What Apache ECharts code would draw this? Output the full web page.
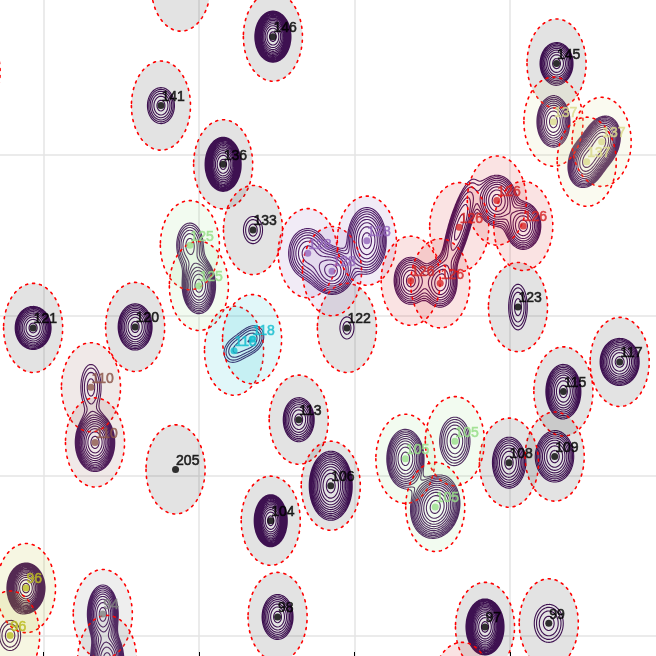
<!DOCTYPE html>
<html><head><meta charset="utf-8">
<script src="https://cdn.jsdelivr.net/npm/echarts@6/dist/echarts.min.js"></script>
<style>html,body{margin:0;padding:0;background:#fff;overflow:hidden}#c{width:656px;height:656px}</style>
</head><body><div id="c"></div>
<script>
// ---- peak data (1H ppm, 15N ppm) ----
const peakLabels = ['146','141','136','133','145','123','121','120','122','117','115','113','109','108','106','205','104','98','97','99','','',
  '125','125','128','128','128','126','126','126','126','126','126','137','137','137','118','118','110','110','105','105','105','96','96','94','94'];
const peakGroups = ['k','k','k','k','k','k','k','k','k','k','k','k','k','k','k','k','k','k','k','k','k','k',
  'g125','g125','g128','g128','g128','g126','g126','g126','g126','g126','g126','g137','g137','g137','g118','g118','g110','g110','g105','g105','g105','g96','g96','g94','g94'];
const peakH = [8.263,8.623,8.423,8.327,7.351,7.475,9.034,8.706,8.025,7.148,7.329,8.180,7.357,7.504,8.077,8.576,8.270,8.248,7.581,7.376,8.559,9.235,
  8.530,8.501,8.151,8.073,7.961,7.820,7.725,7.664,7.543,7.458,7.655,7.361,7.206,7.254,8.388,8.330,8.848,8.835,7.837,7.678,7.741,9.057,9.108,8.810,8.796];
const peakN = [111.31,113.46,115.29,117.34,112.15,119.74,120.39,120.36,120.39,121.45,122.37,123.25,124.40,124.59,125.31,124.80,126.40,129.40,129.71,129.60,109.75,112.41,
  117.81,119.08,118.06,118.62,117.67,118.92,119.00,117.25,116.42,117.21,131.58,113.96,114.59,115.21,121.10,120.74,122.24,123.96,124.47,123.92,125.97,128.50,129.98,129.31,130.74];
const peakHeights = [20.3,3.41,20.3,1.75,6.66,2.18,8.33,6.66,1.40,8.33,8.33,5.33,6.66,5.33,13.0,0,20.3,5.33,20.3,2.18,0,0,
  3.41,8.33,4.27,6.66,6.66,5.33,5.33,4.27,6.66,6.66,5.33,6.66,10.0,10.0,1.75,2.18,2.18,13.0,8.33,3.41,13.0,20.3,1.75,8.33,8.33];
const peakWidthH = [0.0236,0.0277,0.0236,0.029,0.0272,0.024,0.028,0.028,0.0276,0.0305,0.0273,0.0272,0.0314,0.029,0.0305,0.03,0.0216,0.0272,0.0249,0.0373,0.03,0.03,
  0.027,0.026,0.036,0.035,0.032,0.029,0.029,0.032,0.032,0.029,0.029,0.0272,0.028,0.028,0.03,0.03,0.026,0.028,0.029,0.031,0.035,0.0249,0.032,0.024,0.026];
const peakWidthN = [0.324,0.358,0.343,0.40,0.336,0.57,0.325,0.37,0.42,0.356,0.409,0.375,0.408,0.434,0.475,0.4,0.33,0.383,0.355,0.474,0.4,0.4,
  0.44,0.42,0.45,0.37,0.53,0.40,0.40,0.85,0.405,0.374,0.40,0.408,0.374,0.374,0.33,0.33,0.57,0.40,0.446,0.477,0.433,0.318,0.44,0.44,0.44];
const peakCorr = [0,0,0,0,0,0,0,0,0,0,0,0,0,0,0,0,0,0,0,0,0,0,
  0,0,0,0,0,0,0,0.75,0,0,0,0,0.2,0.2,0.2,0.2,0,0,0,0,0.1,0,0,0,0];
const groupColors = {k:'#000000', g125:'#98df8a', g128:'#9467bd', g126:'#d62728', g137:'#dbdb8d', g118:'#17becf', g110:'#8c564b', g105:'#98df8a', g96:'#bcbd22', g94:'#7f7f7f'};
const ellipseRadiusH = 0.095, ellipseRadiusN = 1.39;
const contourBase = 1, contourFactor = 1.25, contourCount = 20;
const xRange = [7.0312, 9.1405], yRange = [110.168, 130.617];
const xGridTicks = [7.5, 8.0, 8.5, 9.0], yGridTicks = [115, 120, 125, 130];

// ---- contour field ----
const X0 = 6.95, X1 = 9.3, Y0 = 108.5, Y1 = 132.5, NX = 520, NY = 540;
const dx = (X1 - X0) / NX, dy = (Y1 - Y0) / NY, W = NX + 1;
const field = new Float64Array((NX + 1) * (NY + 1));
for (let p = 0; p < peakLabels.length; p++) {
  const A = peakHeights[p]; if (!A) continue;
  const cx = peakH[p], cy = peakN[p], sx = peakWidthH[p], sy = peakWidthN[p], r = peakCorr[p], k1 = 1 / (1 - r * r);
  const i0 = Math.max(0, Math.floor((cx - 5 * sx - X0) / dx)), i1 = Math.min(NX, Math.ceil((cx + 5 * sx - X0) / dx));
  const j0 = Math.max(0, Math.floor((cy - 5 * sy - Y0) / dy)), j1 = Math.min(NY, Math.ceil((cy + 5 * sy - Y0) / dy));
  for (let j = j0; j <= j1; j++) {
    const v = (Y0 + j * dy - cy) / sy;
    for (let i = i0; i <= i1; i++) {
      const u = (X0 + i * dx - cx) / sx;
      field[j * W + i] += A * Math.exp(-0.5 * k1 * (u * u - 2 * r * u * v + v * v));
    }
  }
}
const segs = [];
for (let k = 0; k < contourCount; k++) {
  const L = contourBase * Math.pow(contourFactor, k);
  for (let j = 0; j < NY; j++) for (let i = 0; i < NX; i++) {
    const v0 = field[j * W + i], v1 = field[j * W + i + 1], v2 = field[(j + 1) * W + i + 1], v3 = field[(j + 1) * W + i];
    const c = (v0 > L ? 1 : 0) | (v1 > L ? 2 : 0) | (v2 > L ? 4 : 0) | (v3 > L ? 8 : 0);
    if (c === 0 || c === 15) continue;
    const x = X0 + i * dx, y = Y0 + j * dy;
    const e = (q) => {
      switch (q) {
        case 0: return [x + (L - v0) / (v1 - v0) * dx, y];
        case 1: return [x + dx, y + (L - v1) / (v2 - v1) * dy];
        case 2: return [x + (L - v3) / (v2 - v3) * dx, y + dy];
        default: return [x, y + (L - v0) / (v3 - v0) * dy];
      }
    };
    const s = (a, b) => { segs.push(e(a), e(b)); };
    const ctr = (v0 + v1 + v2 + v3) / 4;
    switch (c) {
      case 1: s(3, 0); break; case 2: s(0, 1); break; case 3: s(3, 1); break; case 4: s(1, 2); break;
      case 5: if (ctr > L) { s(0, 1); s(2, 3); } else { s(3, 0); s(1, 2); } break;
      case 6: s(0, 2); break; case 7: s(3, 2); break; case 8: s(2, 3); break; case 9: s(0, 2); break;
      case 10: if (ctr > L) { s(3, 0); s(1, 2); } else { s(0, 1); s(2, 3); } break;
      case 11: s(1, 2); break; case 12: s(1, 3); break; case 13: s(0, 1); break; case 14: s(3, 0); break;
    }
  }
}

const chart = echarts.init(document.getElementById('c'), null, {renderer: 'canvas'});
const ellipseData = peakLabels.map((l, i) => [peakH[i], peakN[i], i]);
const scatterData = peakLabels.map((l, i) => ({
  value: [peakH[i], peakN[i]], name: l,
  itemStyle: {color: groupColors[peakGroups[i]]},
  label: {color: groupColors[peakGroups[i]], textBorderColor: groupColors[peakGroups[i]], textBorderWidth: 0.6}
}));
function fade(hex, a) {
  const r = parseInt(hex.slice(1, 3), 16), g = parseInt(hex.slice(3, 5), 16), b = parseInt(hex.slice(5, 7), 16);
  return `rgba(${r},${g},${b},${a})`;
}
const gridLineStyle = {color: '#e4e4e4', width: 1.5, type: 'solid'};
chart.setOption({
  animation: false,
  backgroundColor: '#ffffff',
  grid: {left: 0, right: 0, top: 0, bottom: 0, containLabel: false},
  xAxis: {type: 'value', min: xRange[0], max: xRange[1], inverse: true,
    axisLine: {show: false}, axisLabel: {show: false},
    axisTick: {show: true, inside: true, length: 4, customValues: xGridTicks, lineStyle: {color: '#000', width: 1}},
    splitLine: {show: false}},
  yAxis: {type: 'value', min: yRange[0], max: yRange[1], inverse: true,
    axisLine: {show: false}, axisLabel: {show: false}, axisTick: {show: false},
    splitLine: {show: false}},
  series: [
    {type: 'line', z: 0, data: [], silent: true,
      markLine: {z: 0, silent: true, symbol: ['none', 'none'], label: {show: false}, lineStyle: gridLineStyle,
        emphasis: {disabled: true},
        data: xGridTicks.map(v => ({xAxis: v})).concat(yGridTicks.map(v => ({yAxis: v})))}},
    {type: 'custom', z: 2, silent: true, data: [[8, 120]],
      renderItem: (params, api) => {
        let d = '';
        for (let m = 0; m < segs.length; m += 2) {
          const p = api.coord(segs[m]), q = api.coord(segs[m + 1]);
          d += 'M' + p[0].toFixed(2) + ' ' + p[1].toFixed(2) + 'L' + q[0].toFixed(2) + ' ' + q[1].toFixed(2);
        }
        return {type: 'path', shape: {pathData: d}, style: {fill: null, stroke: '#46145b', lineWidth: 1.1, lineCap: 'round'}};
      }},
    {type: 'custom', z: 3, silent: true, data: ellipseData,
      renderItem: (params, api) => {
        const cx = api.value(0), cy = api.value(1), idx = api.value(2);
        const g = peakGroups[idx];
        const pts = [];
        for (let t = 0; t < 96; t++) {
          const a = t / 96 * Math.PI * 2;
          pts.push(api.coord([cx + ellipseRadiusH * Math.cos(a), cy + ellipseRadiusN * Math.sin(a)]));
        }
        const fill = g === 'k' ? 'rgba(0,0,0,0.11)' : fade(groupColors[g], 0.13);
        return {type: 'polygon', shape: {points: pts},
          style: {fill: fill, stroke: '#ff0000', lineWidth: 1.6, lineDash: [2, 5], lineCap: 'round'}};
      }},
    {type: 'scatter', z: 4, symbol: 'circle', symbolSize: 7, data: scatterData,
      label: {show: true, formatter: '{b}', position: [4, -12], fontSize: 14, fontFamily: 'Liberation Sans, Arial, sans-serif'}}
  ]
});
</script></body></html>
